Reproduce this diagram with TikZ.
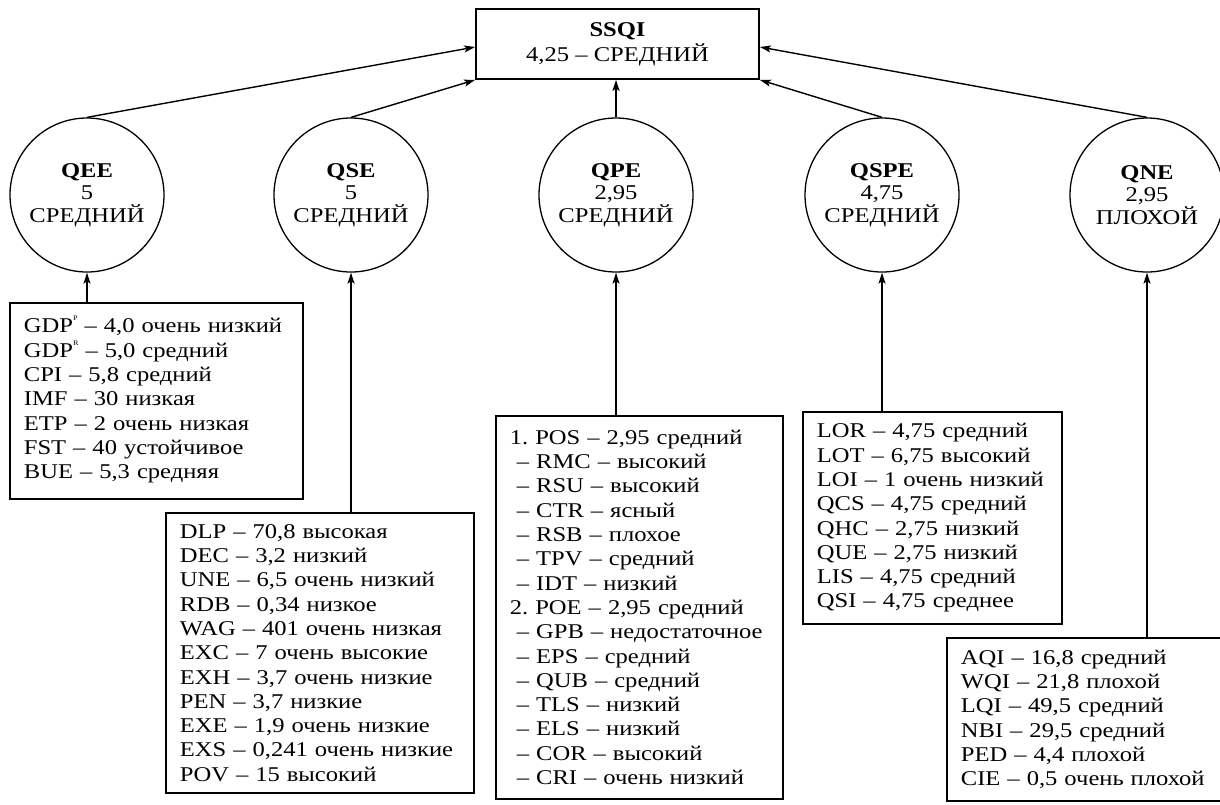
\documentclass[tikz,border=0pt]{standalone}
\usepackage{fontspec}
\setmainfont[FakeStretch=1.17]{Liberation Serif}
\usetikzlibrary{shapes.geometric,arrows.meta}
\newcommand{\supsm}[1]{\raisebox{1.25ex}[0pt][0pt]{\fontsize{7}{7}\selectfont #1}}
\frenchspacing
\tikzset{
  arr/.style={line width=1.4pt, -{Stealth[length=11pt,width=7pt,inset=2.5pt]}},
  circ/.style={draw, line width=1.3pt, circle, minimum size=154pt, inner sep=0pt, align=center, font=\fontsize{21}{22.5}\selectfont},
  lst/.style={draw, line width=1.8pt, anchor=north west, align=left, inner xsep=14pt, inner ysep=0pt, font=\fontsize{21}{24.3}\selectfont},
  topbox/.style={draw, line width=1.8pt, minimum width=283pt, minimum height=70pt, inner sep=0pt, align=center, font=\fontsize{21}{25}\selectfont}
}
\begin{document}
\begin{tikzpicture}[x=1pt,y=-1pt]
\useasboundingbox (0,0) rectangle (1220,804);
\clip (0,0) rectangle (1220,804);
\fill[white] (0,0) rectangle (1220,804);

\node[topbox] (S) at (617.5,44) {\textbf{SSQI}\\4,25 – СРЕДНИЙ};

\node[circ] (QEE) at (87,195) {\textbf{QEE}\\5\\СРЕДНИЙ};
\node[circ] (QSE) at (351,195) {\textbf{QSE}\\5\\СРЕДНИЙ};
\node[circ] (QPE) at (616,195) {\textbf{QPE}\\2,95\\СРЕДНИЙ};
\node[circ] (QSPE) at (882,195) {\textbf{QSPE}\\4,75\\СРЕДНИЙ};
\node[circ] (QNE) at (1147,195) {\textbf{QNE}\\2,95\\ПЛОХОЙ};

\node[lst, text width=265pt, minimum height=196pt] (bQEE) at (9,302) {GDP\supsm{P} – 4,0 очень низкий\\GDP\supsm{R} – 5,0 средний\\CPI – 5,8 средний\\IMF – 30 низкая\\ETP – 2 очень низкая\\FST – 40 устойчивое\\BUE – 5,3 средняя};

\node[lst, text width=280pt, minimum height=280pt] (bQSE) at (165,512) {DLP – 70,8 высокая\\DEC – 3,2 низкий\\UNE – 6,5 очень низкий\\RDB – 0,34 низкое\\WAG – 401 очень низкая\\EXC – 7 очень высокие\\EXH – 3,7 очень низкие\\PEN – 3,7 низкие\\EXE – 1,9 очень низкие\\EXS – 0,241 очень низкие\\POV – 15 высокий};

\node[lst, text width=259pt, minimum height=383pt] (bQPE) at (495,415) {1. POS – 2,95 средний\\\ – RMC – высокий\\\ – RSU – высокий\\\ – CTR – ясный\\\ – RSB – плохое\\\ – TPV – средний\\\ – IDT – низкий\\2. POE – 2,95 средний\\\ – GPB – недостаточное\\\ – EPS – средний\\\ – QUB – средний\\\ – TLS – низкий\\\ – ELS – низкий\\\ – COR – высокий\\\ – CRI – очень низкий};

\node[lst, text width=231pt, minimum height=212pt] (bQSPE) at (802,411) {LOR – 4,75 средний\\LOT – 6,75 высокий\\LOI – 1 очень низкий\\QCS – 4,75 средний\\QHC – 2,75 низкий\\QUE – 2,75 низкий\\LIS – 4,75 средний\\QSI – 4,75 среднее};

\node[lst, text width=262pt, minimum height=163pt] (bQNE) at (946,637) {AQI – 16,8 средний\\WQI – 21,8 плохой\\LQI – 49,5 средний\\NBI – 29,5 средний\\PED – 4,4 плохой\\CIE – 0,5 очень плохой};

\draw[arr] (QEE.north) -- ([yshift=-3pt]S.west);
\draw[arr] (QSE.north) -- (S.south west);
\draw[arr] (QPE.north) -- (QPE.north |- S.south);
\draw[arr] (QSPE.north) -- (S.south east);
\draw[arr] (QNE.north) -- ([yshift=-3pt]S.east);

\draw[arr] (bQEE.north -| QEE) -- (QEE.south);
\draw[arr] (bQSE.north -| QSE) -- (QSE.south);
\draw[arr] (bQPE.north -| QPE) -- (QPE.south);
\draw[arr] (bQSPE.north -| QSPE) -- (QSPE.south);
\draw[arr] (bQNE.north -| QNE) -- (QNE.south);
\end{tikzpicture}
\end{document}
